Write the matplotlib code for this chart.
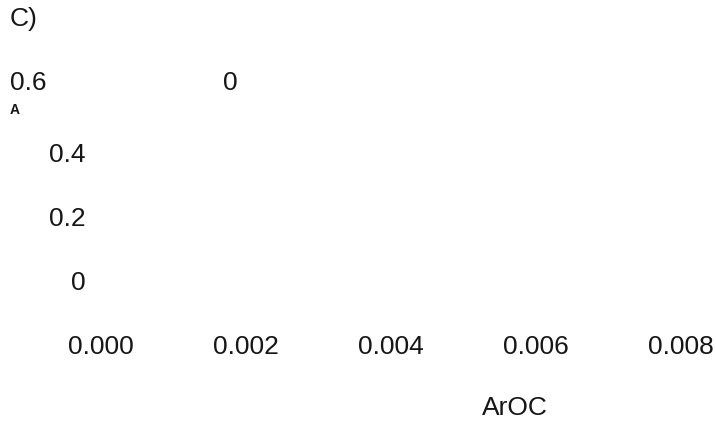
import matplotlib.pyplot as plt

plt.rcParams["font.family"] = ["Liberation Sans", "DejaVu Sans"]

# ------------------------------------------------------------
# AXIS VALUES AND LABELS
# ------------------------------------------------------------
x_ticks = [0.000, 0.002, 0.004, 0.006, 0.008]
x_tick_labels = ["0.000", "0.002", "0.004", "0.006", "0.008"]

y_ticks = [0.0, 0.2, 0.4]
y_tick_labels = ["0", "0.2", "0.4"]

x_label = "ArOC"
panel_label = "C)"
stray_labels = ["0.6", "0"]
corner_label = "A"

W, H = 716, 426
TEXT_COLOR = "#161616"
FS = 19

# ------------------------------------------------------------
# FIGURE
# ------------------------------------------------------------
fig = plt.figure(figsize=(W / 100, H / 100), dpi=100)
fig.patch.set_facecolor("white")

# axes placed so that x 0..0.008 spans px 101..681 and y 0..0.4 spans px 281..153
ax = fig.add_axes([101 / W, (H - 281) / H, 580 / W, 128 / H])
ax.set_xlim(0, 0.008)
ax.set_ylim(0, 0.4)

for spine in ax.spines.values():
    spine.set_visible(False)

ax.set_xticks(x_ticks)
ax.set_xticklabels(x_tick_labels)
ax.set_yticks(y_ticks)
ax.set_yticklabels(y_tick_labels)

ax.tick_params(axis="x", length=0, pad=39, labelsize=FS, labelcolor=TEXT_COLOR)
ax.tick_params(axis="y", length=0, pad=11, labelsize=FS, labelcolor=TEXT_COLOR)
ax.set_facecolor("none")

# ------------------------------------------------------------
# LOOSE TEXT
# ------------------------------------------------------------
def px_text(x, y, s, **kw):
    fig.text(x / W, 1 - y / H, s, color=TEXT_COLOR, **kw)

px_text(10, 19, panel_label, fontsize=FS, va="center", ha="left")
px_text(10, 83, stray_labels[0], fontsize=FS, va="center", ha="left")
px_text(223, 83, stray_labels[1], fontsize=FS, va="center", ha="left")
px_text(10, 110, corner_label, fontsize=10, fontweight="bold",
        va="center", ha="left")
px_text(515, 408, x_label, fontsize=FS, va="center", ha="center")

fig.savefig("out.png", dpi=100, facecolor="white")
